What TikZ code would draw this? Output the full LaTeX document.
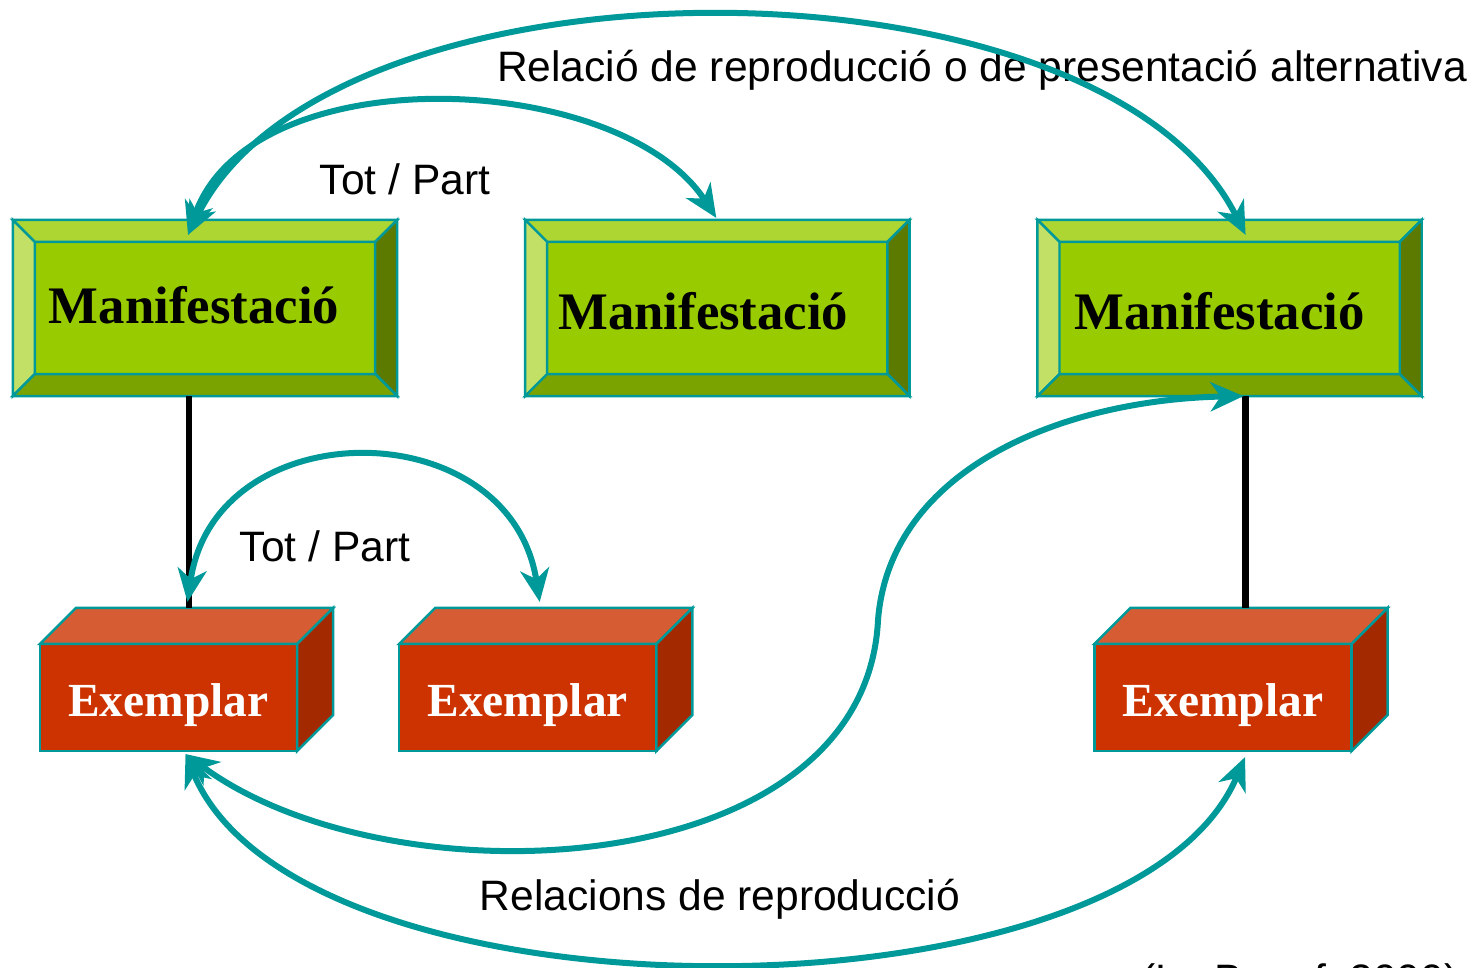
\documentclass[tikz,border=0pt]{standalone}
\usepackage{fontspec}
\setmainfont{Liberation Serif}
\newfontfamily\sansfont{Liberation Sans}
\usepackage{xcolor}
\usetikzlibrary{arrows.meta,calc,positioning}
\definecolor{tealline}{RGB}{0,153,153}
\definecolor{mface}{RGB}{153,204,0}
\definecolor{mtop}{RGB}{174,214,51}
\definecolor{mleft}{RGB}{194,224,102}
\definecolor{mright}{RGB}{92,122,0}
\definecolor{mbottom}{RGB}{122,163,0}
\definecolor{efront}{RGB}{204,51,0}
\definecolor{etop}{RGB}{214,92,51}
\definecolor{eright}{RGB}{163,41,0}
\tikzset{%
	manif/.style    = {draw=tealline, fill=mface, rectangle, line width=0.7pt, minimum width=3.84cm, minimum height=1.76cm, inner sep=0pt, outer sep=0pt},
	exemp/.style    = {draw=tealline, fill=efront, rectangle, line width=0.7pt, minimum width=2.57cm, minimum height=1.07cm, inner sep=0pt, outer sep=0pt, text height=0.37cm, text depth=0cm, text=white, font=\fontsize{13.5}{16}\selectfont\bfseries},
	bevel/.style    = {draw=tealline, line width=0.7pt},
	mtext/.style    = {font=\fontsize{15}{18}\selectfont\bfseries, inner sep=0pt, anchor=base},
	lbl/.style      = {font=\sansfont\fontsize{12.1}{14}\selectfont, inner sep=0pt},
	link/.style     = {line width=0.065cm, black},
	relarrow/.style = {draw=tealline, line width=0.06cm, >={Stealth[length=0.33cm,width=0.29cm,inset=0.1cm]}, <->},
}
\begin{document}
\begin{tikzpicture}[x=0.01cm,y=-0.01cm]
	\useasboundingbox (0,0) rectangle (1474,967);

	% manifestations
	\node [manif] (m1) at (205,308) {};
	\node [manif] (m2) [right=1.28cm of m1] {};
	\node [manif] (m3) [right=1.28cm of m2] {};
	\foreach \b/\dx/\dy in {m1/-11/15, m2/-14/21, m3/-10/21}{
		\filldraw[bevel, fill=mtop] (\b.north west) -- (\b.north east) -- ($(\b.north east)+(-22,22)$) -- ($(\b.north west)+(22,22)$) -- cycle;
		\filldraw[bevel, fill=mleft] (\b.north west) -- ($(\b.north west)+(22,22)$) -- ($(\b.south west)+(22,-22)$) -- (\b.south west) -- cycle;
		\filldraw[bevel, fill=mright] (\b.north east) -- ($(\b.north east)+(-22,22)$) -- ($(\b.south east)+(-22,-22)$) -- (\b.south east) -- cycle;
		\filldraw[bevel, fill=mbottom] (\b.south west) -- ($(\b.south west)+(22,-22)$) -- ($(\b.south east)+(-22,-22)$) -- (\b.south east) -- cycle;
		\node [mtext] (t\b) at ($(\b.center)+(\dx,\dy)$) {Manifestació};
	}

	% items
	\node [exemp] (e1) at (168.5,697.5) {Exemplar};
	\node [exemp] (e2) [right=1.02cm of e1] {Exemplar};
	\node [exemp] (e3) at (1223,697.5) {Exemplar};
	\foreach \b in {e1,e2,e3}{
		\filldraw[bevel, fill=etop] (\b.north west) -- ++(36,-36) -- ($(\b.north east)+(36,-36)$) -- (\b.north east) -- cycle;
		\filldraw[bevel, fill=eright] (\b.north east) -- ++(36,-36) -- ($(\b.south east)+(36,-36)$) -- (\b.south east) -- cycle;
	}

	% links manifestation - item
	\coordinate (l1) at ($(m1.south)+(-16,0)$);
	\coordinate (l3) at ($(m3.south)+(16,0)$);
	\coordinate (e1back) at ($(e1.north)+(0,-36)$);
	\coordinate (e3back) at ($(e3.north)+(0,-36)$);
	\draw[link] (l1) -- (l1 |- e1back);
	\draw[link] (l3) -- (l3 |- e3back);

	% labels
	\node [lbl] (alt) at (982,70) {Relació de reproducció o de presentació alternativa};
	\node [lbl] (tp1) at (405,179) {Tot / Part};
	\node [lbl] (tp2) at (325,546) {Tot / Part};
	\node [lbl] (rep) at (720,899) {Relacions de reproducció};
	\node [lbl, anchor=base] (cite) at (1300,994) {(Le Boeuf, 2000)};

	% relations
	\coordinate (m1in) at ($(m1.north)+(-17,15)$);
	\coordinate (m2in) at ($(m2.north)+(-1,-2)$);
	\coordinate (m3in) at ($(m3.north)+(16,15)$);
	\coordinate (m3out) at ($(m3.south)+(14,0)$);
	\coordinate (e1up) at ($(e1.north)+(19,-42)$);
	\coordinate (e2up) at ($(e2.north)+(12,-42)$);
	\coordinate (e1dn) at ($(e1.south)+(17,3)$);
	\coordinate (e3dn) at ($(e3.south)+(22,6)$);
	\coordinate (bend) at (878,620);

	\draw[relarrow] (m1in) .. controls (330,-55) and (1100,-55) .. (m3in);
	\draw[relarrow] (m1in) .. controls (250,55) and (620,70) .. (m2in);
	\draw[relarrow] (e1up) .. controls (215,410) and (510,410) .. (e2up);
	\draw[relarrow] (e1dn) .. controls (390,905) and (865,885) .. (bend) .. controls (890,470) and (1060,400) .. (m3out);
	\draw[relarrow] (e1dn) .. controls (300,1030) and (1130,1030) .. (e3dn);
\end{tikzpicture}
\end{document}
